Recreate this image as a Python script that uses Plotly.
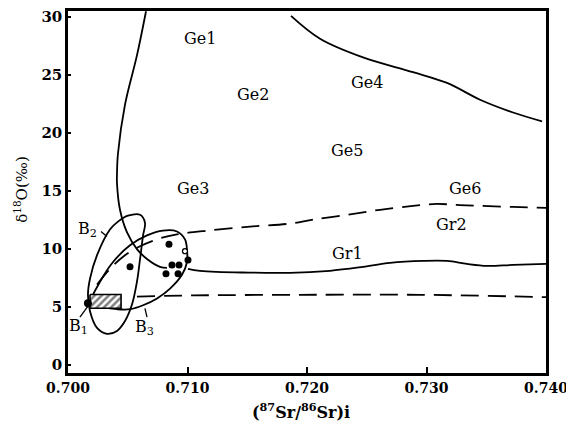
import plotly.graph_objects as go

# ---- data ----
x_ticks = [0.700, 0.710, 0.720, 0.730, 0.740]
x_tick_labels = ["0.700", "0.710", "0.720", "0.730", "0.740"]
y_ticks = [0, 5, 10, 15, 20, 25, 30]
y_tick_labels = ["0", "5", "10", "15", "20", "25", "30"]

ge_left_x = [0.70653, 0.70577, 0.70477, 0.70418, 0.70410, 0.70410, 0.70435, 0.70494, 0.70577, 0.70661, 0.70770, 0.70828]
ge_left_y = [30.5, 26.69, 22.45, 18.21, 16.51, 15.66, 13.38, 11.43, 9.99, 9.14, 8.46, 8.37]

ge4_x = [0.71866, 0.72109, 0.72469, 0.72887, 0.73172, 0.73448, 0.73724, 0.73967]
ge4_y = [30.1, 28.13, 26.52, 25.25, 24.32, 22.87, 21.77, 21.01]

upper_dash_x = [0.70243, 0.70351, 0.70477, 0.70603, 0.70770, 0.70912, 0.71172, 0.71523, 0.71858, 0.72050,
                0.72335, 0.72611, 0.72887, 0.73088, 0.73255, 0.73448, 0.73724, 0.74000]
upper_dash_y = [6.93, 8.29, 9.47, 10.24, 10.92, 11.26, 11.59, 11.93, 12.19, 12.53,
                12.95, 13.38, 13.72, 13.89, 13.80, 13.72, 13.63, 13.55]

lower_dash_x = [0.70577, 0.71046, 0.71941, 0.72946, 0.74000]
lower_dash_y = [5.90, 6.00, 6.05, 6.05, 5.85]

gr1_x = [0.71004, 0.71105, 0.71858, 0.72192, 0.72469, 0.72695, 0.72971, 0.73172, 0.73339, 0.73506, 0.73724, 0.74000]
gr1_y = [8.29, 8.12, 7.95, 8.12, 8.46, 8.80, 8.97, 8.97, 8.71, 8.54, 8.63, 8.71]

b2_x = [0.70502, 0.70603, 0.70644, 0.70628, 0.70603, 0.70577, 0.70536, 0.70477, 0.70410, 0.70326,
        0.70243, 0.70184, 0.70167, 0.70184, 0.70243, 0.70351, 0.70418, 0.70502]
b2_y = [12.87, 12.95, 12.27, 11.17, 9.14, 7.18, 5.23, 3.79, 2.94, 2.69,
        3.20, 4.64, 6.08, 7.44, 9.47, 11.68, 12.36, 12.87]

b3_x = [0.70184, 0.70268, 0.70377, 0.70519, 0.70661, 0.70795, 0.70912, 0.70979, 0.70996, 0.70996,
        0.70954, 0.70854, 0.70745, 0.70628, 0.70519, 0.70410, 0.70293, 0.70209, 0.70184]
b3_y = [5.32, 7.18, 8.88, 10.32, 11.17, 11.59, 11.51, 10.83, 9.90, 8.88,
        7.78, 6.59, 5.74, 5.15, 4.81, 4.81, 4.98, 5.23, 5.32]

hatch_x = [0.70184, 0.70444, 0.70444, 0.70184, 0.70184]
hatch_y = [6.08, 6.08, 4.89, 4.89, 6.08]

dots_x = [0.70519, 0.70845, 0.70820, 0.70870, 0.70929, 0.70921, 0.71004]
dots_y = [8.46, 10.41, 7.86, 8.63, 8.63, 7.86, 9.05]

b1_point_x = [0.70167]
b1_point_y = [5.32]
open_pt_x = [0.70979]
open_pt_y = [9.81]

leader_b1_x = [0.70100, 0.70184]
leader_b1_y = [4.13, 5.32]
leader_b2_x = [0.70276, 0.70326]
leader_b2_y = [11.51, 11.08]
leader_b3_x = [0.70644, 0.70661]
leader_b3_y = [4.89, 4.13]

region_labels = ["Ge1", "Ge2", "Ge3", "Ge4", "Ge5", "Ge6", "Gr2", "Gr1", "B<sub>2</sub>", "B<sub>1</sub>", "B<sub>3</sub>"]
region_x = [0.71105, 0.71548, 0.71046, 0.72502, 0.72335, 0.73322, 0.73213, 0.72335, 0.70159, 0.70092, 0.70636]
region_y = [28.13, 23.3, 15.24, 24.32, 18.47, 15.24, 12.1, 9.64, 11.68, 3.28, 3.2]

# ---- figure ----
FONT = "DejaVu Serif"
fig = go.Figure()

def line(x, y, dash="solid", width=1.8, shape="spline"):
    fig.add_trace(go.Scatter(x=x, y=y, mode="lines",
                             line=dict(color="black", width=width, dash=dash, shape=shape, smoothing=1.0),
                             hoverinfo="skip", showlegend=False))

line(ge_left_x, ge_left_y)
line(ge4_x, ge4_y)
line(upper_dash_x, upper_dash_y, dash="18px,9px")
line(lower_dash_x, lower_dash_y, dash="18px,9px")
line(gr1_x, gr1_y)
line(b2_x, b2_y)
line(b3_x, b3_y)
line(leader_b1_x, leader_b1_y, width=1.3, shape="linear")
line(leader_b2_x, leader_b2_y, width=1.3, shape="linear")
line(leader_b3_x, leader_b3_y, width=1.3, shape="linear")

fig.add_trace(go.Scatter(x=hatch_x, y=hatch_y, mode="lines", fill="toself",
                         fillcolor="white",
                         fillpattern=dict(shape="/", fgcolor="black", bgcolor="white", size=5, solidity=0.5),
                         line=dict(color="black", width=1.6), hoverinfo="skip", showlegend=False))

fig.add_trace(go.Scatter(x=dots_x, y=dots_y, mode="markers",
                         marker=dict(color="black", size=7), hoverinfo="skip", showlegend=False))
fig.add_trace(go.Scatter(x=b1_point_x, y=b1_point_y, mode="markers",
                         marker=dict(color="black", size=8), hoverinfo="skip", showlegend=False))
fig.add_trace(go.Scatter(x=open_pt_x, y=open_pt_y, mode="markers",
                         marker=dict(color="white", size=5, line=dict(color="black", width=1.3)),
                         hoverinfo="skip", showlegend=False))

for t, x, y in zip(region_labels, region_x, region_y):
    fig.add_annotation(x=x, y=y, text=t, showarrow=False, xanchor="center", yanchor="middle",
                       font=dict(family=FONT, size=16, color="black"))

fig.add_annotation(xref="paper", yref="paper", x=-0.099, y=0.508, textangle=-90,
                   xanchor="center", yanchor="middle",
                   text="δ<sup>18</sup>O(‰)", showarrow=False,
                   font=dict(family=FONT, size=15, color="black"))
fig.add_annotation(xref="paper", yref="paper", x=0.487, y=-0.104,
                   xanchor="center", yanchor="middle",
                   text="(<sup>87</sup>Sr/<sup>86</sup>Sr)i", showarrow=False,
                   font=dict(family=FONT, size=16, color="black", weight="bold"))

fig.update_xaxes(range=[0.700, 0.740], tickvals=x_ticks, ticktext=x_tick_labels, automargin=False,
                 ticklabeloverflow="allow",
                 showgrid=False, zeroline=False, showline=True, linecolor="black", linewidth=2.5,
                 mirror=True, ticks="inside", ticklen=6, tickwidth=1.5, tickcolor="black",
                 tickfont=dict(family=FONT, size=14, color="black", weight="bold"))
fig.update_yaxes(range=[-0.69, 30.52], tickvals=y_ticks, ticktext=y_tick_labels, automargin=False,
                 ticklabeloverflow="allow",
                 showgrid=False, zeroline=False, showline=True, linecolor="black", linewidth=2.5,
                 mirror=True, ticks="inside", ticklen=3, tickwidth=2, tickcolor="black",
                 tickfont=dict(family=FONT, size=15, color="black", weight="bold"))

# page body adds an 8px offset, margins compensate so the plot box sits at x 68-546, y 11-373
fig.update_layout(width=574, height=426, margin=dict(l=60, r=36, t=3, b=61),
                  paper_bgcolor="white", plot_bgcolor="white", showlegend=False)

fig.write_html("out.html")
